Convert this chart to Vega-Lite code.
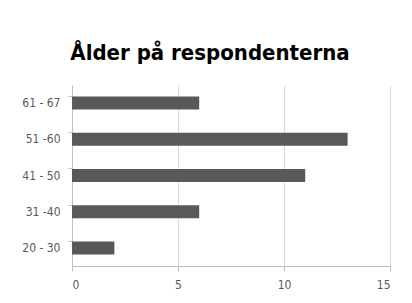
{
  "$schema": "https://vega.github.io/schema/vega-lite/v6.json",
  "autosize": {"type": "none"},
  "width": 318,
  "height": 181,
  "padding": {"left": 72, "top": 85, "right": 22, "bottom": 37},
  "background": "white",
  "title": {
    "text": "Ålder på respondenterna",
    "font": "DejaVu Sans Condensed",
    "fontSize": 22,
    "fontWeight": "bold",
    "color": "#000000",
    "anchor": "middle",
    "dx": -21,
    "offset": 20
  },
  "data": {
    "values": [
      {"age": "61 - 67", "count": 6},
      {"age": "51 -60", "count": 13},
      {"age": "41 - 50", "count": 11},
      {"age": "31 -40", "count": 6},
      {"age": "20 - 30", "count": 2}
    ]
  },
  "mark": {"type": "bar", "color": "#595959"},
  "encoding": {
    "y": {
      "field": "age",
      "type": "nominal",
      "sort": null,
      "scale": {"paddingInner": 0.64, "paddingOuter": 0.32},
      "axis": {
        "title": null,
        "bandPosition": 0,
        "domainColor": "#bfbfbf",
        "tickColor": "#bfbfbf",
        "tickSize": 4,
        "labelFont": "DejaVu Sans Condensed",
        "labelFontSize": 12,
        "labelColor": "#595959",
        "labelPadding": 8,
        "grid": false
      }
    },
    "x": {
      "field": "count",
      "type": "quantitative",
      "scale": {"domain": [0, 15]},
      "axis": {
        "title": null,
        "values": [0, 5, 10, 15],
        "domainColor": "#bfbfbf",
        "tickColor": "#bfbfbf",
        "tickSize": 5,
        "gridColor": "#d9d9d9",
        "labelFont": "DejaVu Sans Condensed",
        "labelFontSize": 12,
        "labelColor": "#595959",
        "labelPadding": 8
      }
    }
  },
  "config": {"view": {"stroke": null}}
}
